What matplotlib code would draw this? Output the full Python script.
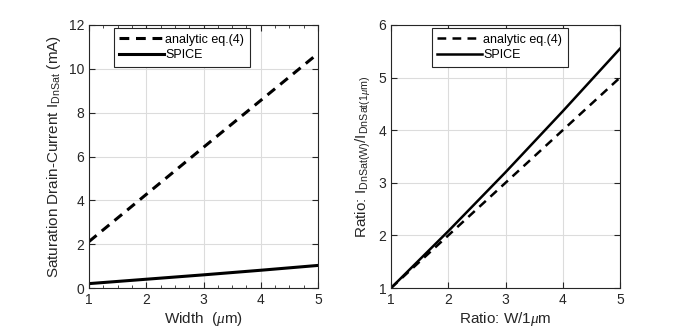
import numpy as np
import matplotlib.pyplot as plt
from matplotlib.ticker import MultipleLocator

plt.rcParams['font.family'] = ['Liberation Sans', 'DejaVu Sans']
plt.rcParams['mathtext.fontset'] = 'custom'
plt.rcParams['mathtext.it'] = 'Liberation Serif:italic'
plt.rcParams['mathtext.rm'] = 'Liberation Sans'

# width in um
width = [1, 2, 3, 4, 5]
# saturation drain current (mA)
id_analytic = [2.12, 4.27, 6.42, 8.56, 10.7]
id_spice = [0.2, 0.4, 0.6, 0.81, 1.03]

# ratios
ratio_w = [1, 2, 3, 4, 5]
ratio_analytic = [1.0, 2.0, 3.0, 4.0, 5.0]
ratio_spice = [1.0, 2.08, 3.2, 4.36, 5.55]

txt = '#262626'
fig = plt.figure(figsize=(6.85, 3.28), dpi=100)
ax1 = fig.add_axes([89/685, 1-288/328, 229/685, 263/328])
ax2 = fig.add_axes([391/685, 1-288/328, 229/685, 263/328])

ax1.plot(width, id_analytic, 'k--', lw=2.2, dashes=(3.2, 2.2), label='analytic eq.(4)')
ax1.plot(width, id_spice, 'k-', lw=2.2, label='SPICE')
ax1.set_xlim(1, 5)
ax1.set_ylim(0, 12)
ax1.set_xticks([1, 2, 3, 4, 5])
ax1.set_yticks([0, 2, 4, 6, 8, 10, 12])
ax1.xaxis.set_minor_locator(MultipleLocator(0.25))
ax1.set_xlabel(r'Width  ($\mu$m)', fontsize=11, color=txt, labelpad=2)
ax1.set_ylabel(r'Saturation Drain-Current I$_{\mathrm{DnSat}}$ (mA)', fontsize=11, color=txt, labelpad=4)

ax2.plot(ratio_w, ratio_analytic, 'k--', lw=1.8, dashes=(3.5, 2.5), label='analytic eq.(4)')
ax2.plot(ratio_w, ratio_spice, 'k-', lw=1.8, label='SPICE')
ax2.set_xlim(1, 5)
ax2.set_ylim(1, 6)
ax2.set_xticks([1, 2, 3, 4, 5])
ax2.set_yticks([1, 2, 3, 4, 5, 6])
ax2.set_xlabel(r'Ratio: W/1$\mu$m', fontsize=11, color=txt, labelpad=2)
ax2.set_ylabel(r'Ratio: I$_{\mathrm{DnSat(W)}}$/I$_{\mathrm{DnSat(1}\mu\mathrm{m)}}$', fontsize=11, color=txt, labelpad=4)

for ax in (ax1, ax2):
    ax.grid(True, color='#dcdcdc', lw=0.8)
    ax.set_axisbelow(True)
    ax.tick_params(which='both', direction='in', top=True, right=True, labelsize=10, colors=txt)
    ax.tick_params(which='major', length=4)
    ax.tick_params(which='minor', length=2)
    for s in ax.spines.values():
        s.set_color('#262626')
        s.set_linewidth(0.8)
    leg = ax.legend(loc='upper left', bbox_to_anchor=(0.08 if ax is ax1 else 0.15, 1.012),
                    fontsize=9, handlelength=3.6, fancybox=False, framealpha=1,
                    edgecolor='#262626', borderpad=0.45, labelspacing=0.3, handletextpad=0.1)
    leg.get_frame().set_linewidth(0.8)

fig.savefig('out.png', dpi=100)
